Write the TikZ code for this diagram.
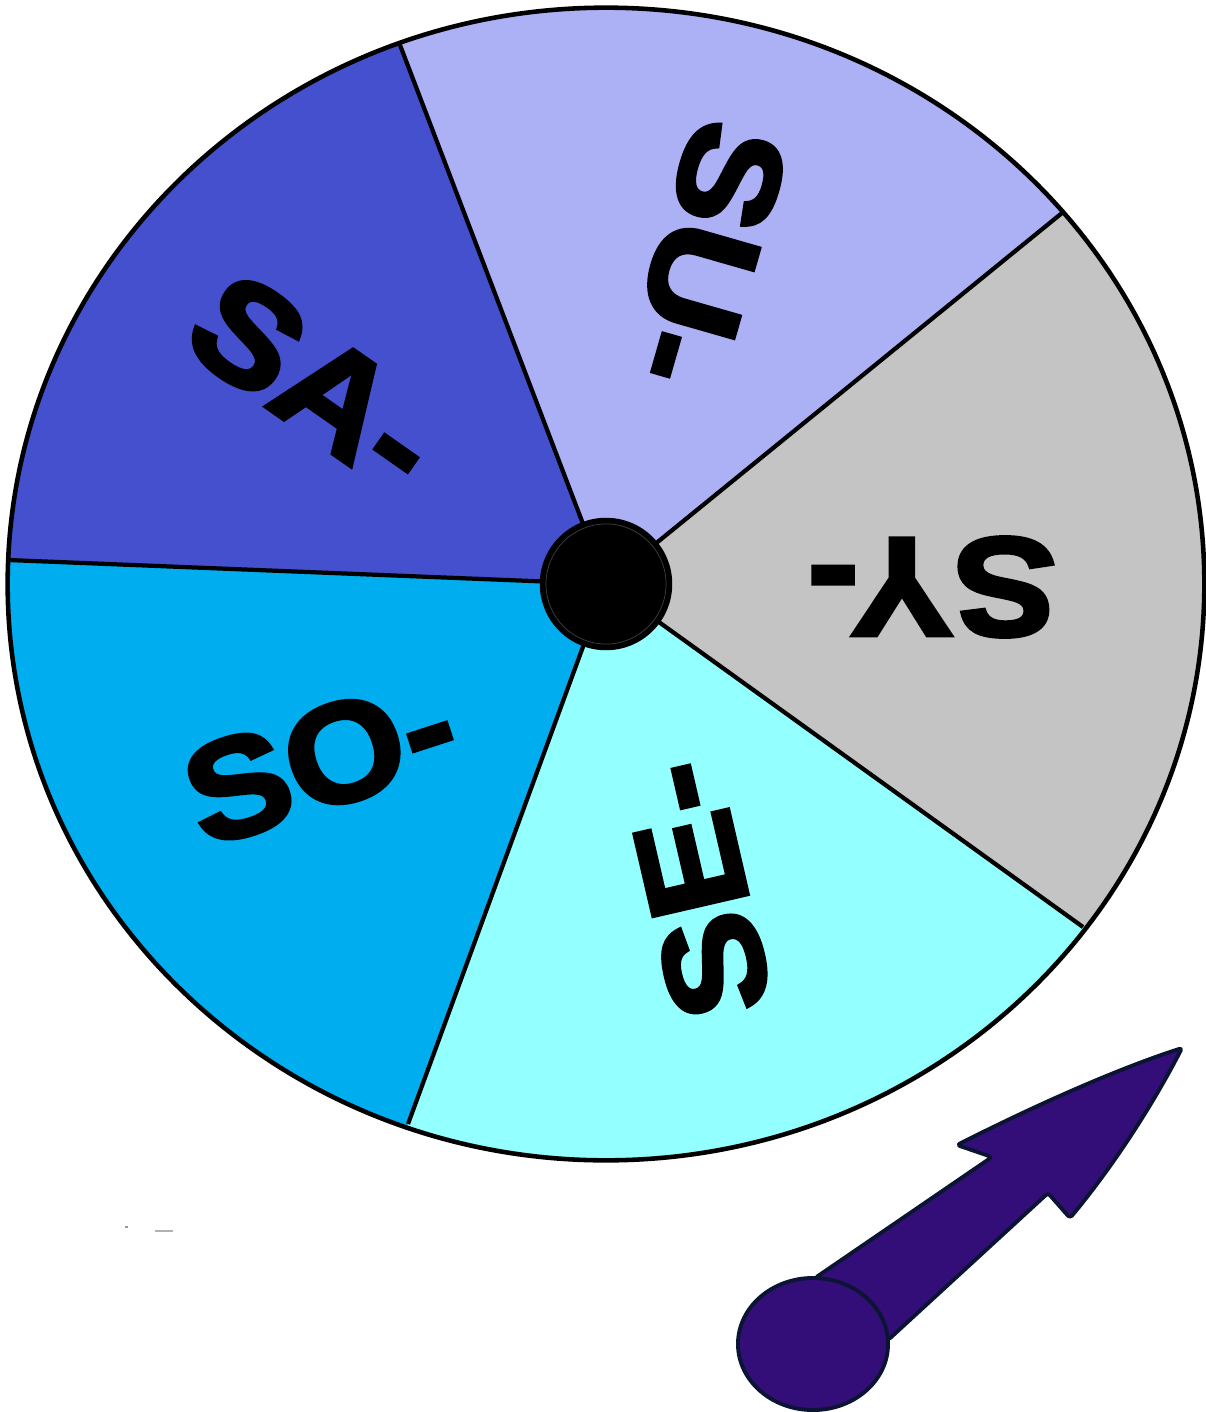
\documentclass[tikz,border=0pt]{standalone}
\usepackage{fontspec}
\newfontfamily\wf[FakeBold=3,FakeStretch=1.1]{Liberation Sans Bold}
\usetikzlibrary{calc}
\definecolor{saC}{RGB}{68,80,205}
\definecolor{suC}{RGB}{172,176,244}
\definecolor{syC}{RGB}{196,196,196}
\definecolor{seC}{RGB}{148,255,255}
\definecolor{soC}{RGB}{0,174,240}
\definecolor{ptrC}{RGB}{51,14,120}
\definecolor{ptrL}{RGB}{12,20,52}
\begin{document}
\begin{tikzpicture}[x=0.01cm,y=-0.01cm,
  lbl/.style={font=\wf\fontsize{40}{42}\selectfont, inner sep=0pt, text=black},
  spoke/.style={line width=1.2pt, draw=black},
  rim/.style={line width=1.3pt, draw=black},
  ptr/.style={fill=ptrC, draw=ptrL, line width=1.1pt, line join=round}]
\useasboundingbox (0,0) rectangle (1206,1412);
\coordinate (C) at (606,584);
\coordinate (P1) at (400,45);
\coordinate (P2) at (1062,213);
\coordinate (P3) at (1083,927);
\coordinate (P4) at (408,1124);
\coordinate (P5) at (8,560);
\begin{scope}
  \clip (C) ellipse [x radius=5.98cm, y radius=5.76cm];
  \fill[saC] (C) -- ($(C)!2!(P5)$) -- ($(C)!2!(P1)$) -- cycle;
  \fill[suC] (C) -- ($(C)!2!(P1)$) -- ($(C)!2!(P2)$) -- cycle;
  \fill[syC] (C) -- ($(C)!2!(P2)$) -- ($(C)!2!(P3)$) -- cycle;
  \fill[seC] (C) -- ($(C)!2!(P3)$) -- ($(C)!2!(P4)$) -- cycle;
  \fill[soC] (C) -- ($(C)!2!(P4)$) -- ($(C)!2!(P5)$) -- cycle;
\end{scope}
\foreach \p in {P1,P2,P3,P4,P5} \draw[spoke] (C) -- (\p);
\draw[rim] (C) ellipse [x radius=5.98cm, y radius=5.76cm];
\node[circle, fill=black, draw=black, minimum size=1.31cm, inner sep=0pt] (hub) at (C) {};
\draw[black!75, line width=0.2pt] (C) circle [radius=0.6cm];
% labels
\node[lbl, rotate=-35] (sa) at (315,382) {SA-};
\node[lbl, rotate=-106] (su) at (707,255) {SU-};
\node[lbl, rotate=180] (sy) at (932,587) {SY-};
\node[lbl, rotate=103] (se) at (697,890) {SE-};
\node[lbl, rotate=18] (so) at (320,760) {SO-};
% pointer
\draw[ptr, rounded corners=0.03cm] (815,1278) -- (992,1157) -- (957,1145)
  .. controls (1040,1103) and (1120,1068) .. (1182,1048)
  .. controls (1150,1110) and (1110,1170) .. (1070,1218)
  -- (1048,1193) -- (888,1340) -- cycle;
\draw[ptr] (813,1344) ellipse [x radius=0.75cm, y radius=0.66cm];
% small specks
\draw[black!30, line width=0.3pt] (155,1231) -- (173,1231);
\fill[black!40] (125,1226) rectangle (128,1228);
\end{tikzpicture}
\end{document}
